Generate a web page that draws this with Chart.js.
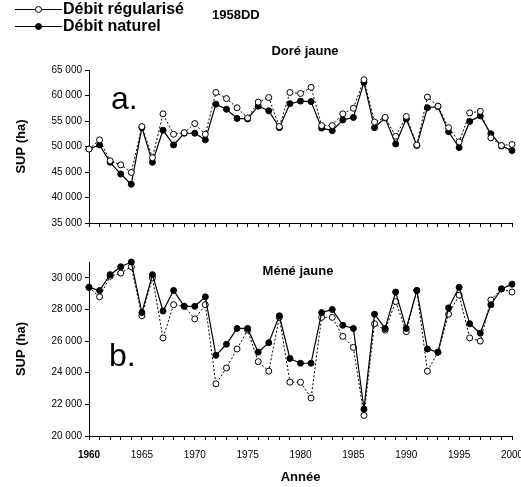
<!DOCTYPE html>
<html>
<head>
<meta charset="utf-8">
<script src="https://cdn.jsdelivr.net/npm/chart.js@4/dist/chart.umd.min.js"></script>
<style>
  body { margin: 0; background: #fff; font-family: "Liberation Sans", Arial, sans-serif; }
  #wrap { position: relative; width: 521px; height: 487px; overflow: hidden; }
  canvas { position: absolute; left: 0; }
  .txt { position: absolute; white-space: nowrap; color: #000; }
  .leg { position: absolute; left: 15px; font-size: 16px; font-weight: bold; line-height: 16px; }
  .ln { display: inline-block; position: relative; width: 47px; height: 0; border-top: 1px solid #000; vertical-align: middle; margin-right: 1px; }
  .mk { position: absolute; left: 20px; top: -4px; width: 5px; height: 5px; border: 1px solid #000; border-radius: 50%; }
  .title { font-size: 13px; font-weight: bold; transform: translateX(-50%); }
  .big { font-size: 32px; line-height: 32px; }
</style>
</head>
<body>
<div id="wrap">
  <canvas id="doreChart" width="540" height="232" style="top:0"></canvas>
  <canvas id="meneChart" width="540" height="247" style="top:240px"></canvas>

  <div class="leg" style="top:1px"><span class="ln"><i class="mk" style="background:#fff"></i></span>Débit régularisé</div>
  <div class="leg" style="top:18px"><span class="ln"><i class="mk" style="background:#000"></i></span>Débit naturel</div>
  <div class="txt" style="left:212px; top:7px; font-size:13px; font-weight:bold">1958DD</div>

  <div class="txt title" style="left:305px; top:43px">Doré jaune</div>
  <div class="txt title" style="left:298px; top:263px">Méné jaune</div>
  <div class="txt big" style="left:111px; top:82px">a.</div>
  <div class="txt big" style="left:109px; top:339px">b.</div>
</div>

<script>
const years = [1960, 1961, 1962, 1963, 1964, 1965, 1966, 1967, 1968, 1969,
               1970, 1971, 1972, 1973, 1974, 1975, 1976, 1977, 1978, 1979,
               1980, 1981, 1982, 1983, 1984, 1985, 1986, 1987, 1988, 1989,
               1990, 1991, 1992, 1993, 1994, 1995, 1996, 1997, 1998, 1999, 2000];

// Doré jaune
const doreRegularise = [49500, 51300, 47200, 46400, 44900, 53900, 47800, 56400, 52400, 52700,
                        54500, 52400, 60600, 59400, 57600, 55600, 58700, 59600, 53900, 60600,
                        60400, 61600, 54100, 54100, 56400, 57500, 63100, 54800, 55700, 52000,
                        55900, 50300, 59700, 57900, 53700, 50900, 56600, 56900, 51700, 50200, 50400];
const doreNaturel = [49500, 50300, 46900, 44600, 42600, 53700, 46900, 53200, 50300, 52600,
                     52600, 51300, 58300, 57300, 55500, 55400, 57900, 57000, 53700, 58400,
                     58900, 58800, 53600, 53100, 55200, 55700, 62600, 53700, 55600, 50500,
                     55400, 50200, 57600, 57800, 52900, 49800, 54900, 56000, 52500, 50100, 49200];

// Méné jaune
const meneRegularise = [29400, 28800, 30100, 30300, 30700, 27600, 30000, 26200, 28300, 28200,
                        27400, 28300, 23300, 24300, 25500, 26700, 24700, 24100, 27500, 23400,
                        23400, 22400, 27500, 27500, 26300, 25600, 21300, 27100, 26700, 28500,
                        26600, 29200, 24100, 25300, 27700, 28900, 26200, 26000, 28600, 29300, 29100];
const meneNaturel = [29400, 29200, 30200, 30700, 31000, 27800, 30200, 27900, 29200, 28200,
                     28200, 28800, 25100, 25800, 26800, 26800, 25300, 25900, 27600, 24900,
                     24600, 24600, 27800, 28000, 27000, 26800, 21700, 27700, 26800, 29100,
                     26800, 29200, 25500, 25300, 28100, 29400, 27100, 26500, 28300, 29300, 29600];

const doreTicks = [35000, 40000, 45000, 50000, 55000, 60000, 65000];
const meneTicks = [20000, 22000, 24000, 26000, 28000, 30000];
const yearLabels = [1960, 1965, 1970, 1975, 1980, 1985, 1990, 1995, 2000];

const FONT = '"Liberation Sans", Arial, sans-serif';

function fmt(v) {
    return String(v).replace(/\B(?=(\d{3})+(?!\d))/g, ' ');
}

function points(vals) {
    return years.map((y, i) => ({ x: y, y: vals[i] }));
}

function makePanel(id, regVals, natVals, yTicks, yMax, showYears, natOnTop, pad, xHeight) {
    const reg = {
        label: 'Débit régularisé',
        data: points(regVals),
        borderColor: '#000',
        borderWidth: 1,
        borderDash: [2, 2],
        pointRadius: 3,
        pointBorderWidth: 1,
        pointBackgroundColor: '#fff',
        pointBorderColor: '#000',
        clip: false,
        order: natOnTop ? 2 : 1
    };
    const nat = {
        label: 'Débit naturel',
        data: points(natVals),
        borderColor: '#000',
        borderWidth: 1.2,
        pointRadius: 3,
        pointBorderWidth: 1,
        pointBackgroundColor: '#000',
        pointBorderColor: '#000',
        clip: false,
        order: natOnTop ? 1 : 2
    };
    return new Chart(document.getElementById(id).getContext('2d'), {
        type: 'line',
        data: { datasets: [reg, nat] },
        options: {
            responsive: false,
            animation: false,
            devicePixelRatio: 1,
            layout: { padding: pad },
            plugins: { legend: { display: false }, tooltip: { enabled: false } },
            scales: {
                x: {
                    type: 'linear',
                    min: 1960,
                    max: 2000,
                    grid: { display: true, drawOnChartArea: false, drawTicks: true, tickLength: 4, color: '#000' },
                    border: { color: '#000', width: 1 },
                    ticks: {
                        stepSize: 1,
                        autoSkip: false,
                        maxRotation: 0,
                        padding: 9,
                        color: '#000',
                        font: ctx => ({ family: FONT, size: 10, weight: ctx.tick && ctx.tick.value === 1960 ? 'bold' : 'normal' }),
                        callback: v => (showYears && yearLabels.includes(v)) ? String(v) : ''
                    },
                    title: {
                        display: showYears,
                        text: 'Année',
                        color: '#000',
                        font: { family: FONT, size: 13, weight: 'bold' },
                        padding: { top: 4, bottom: 2 }
                    },
                    afterFit: s => { s.height = xHeight; }
                },
                y: {
                    min: yTicks[0],
                    max: yMax,
                    grid: { display: true, drawOnChartArea: false, drawTicks: true, tickLength: 4, color: '#000' },
                    border: { color: '#000', width: 1 },
                    ticks: {
                        padding: 3,
                        color: '#000',
                        font: { family: FONT, size: 10 },
                        callback: v => fmt(v)
                    },
                    afterBuildTicks: s => { s.ticks = yTicks.map(v => ({ value: v })); },
                    title: {
                        display: true,
                        text: 'SUP (ha)',
                        color: '#000',
                        font: { family: FONT, size: 13, weight: 'bold' },
                        padding: { top: 14, bottom: 4 }
                    },
                    afterFit: s => { s.width = 89; }
                }
            }
        }
    });
}

const doreChart = makePanel('doreChart', doreRegularise, doreNaturel, doreTicks, 65000, false, false,
    { top: 70, right: 28, bottom: 2, left: 0 }, 6);
const meneChart = makePanel('meneChart', meneRegularise, meneNaturel, meneTicks, 31000, true, true,
    { top: 22, right: 28, bottom: 0, left: 0 }, 51);
</script>
</body>
</html>
